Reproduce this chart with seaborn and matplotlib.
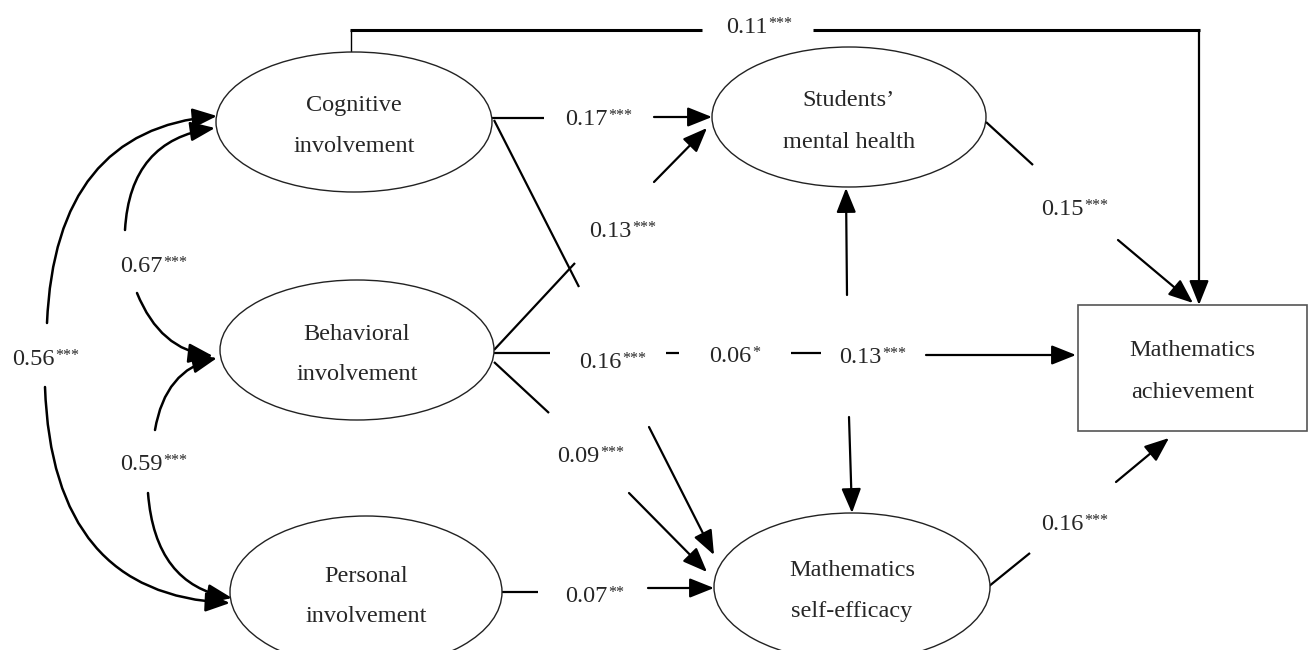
import matplotlib
matplotlib.use("Agg")
import matplotlib.pyplot as plt
import seaborn as sns
from matplotlib.patches import Ellipse, Rectangle, FancyArrowPatch
from matplotlib.path import Path

# --- data: constructs and path coefficients ---
latent_lines = [
    ["Cognitive", "involvement"],
    ["Behavioral", "involvement"],
    ["Personal", "involvement"],
    ["Students\u2019", "mental health"],
    ["Mathematics", "self-efficacy"],
]
observed_lines = ["Mathematics", "achievement"]

coef_values = ["0.11", "0.17", "0.13", "0.15", "0.67", "0.56", "0.59",
               "0.16", "0.06", "0.13", "0.09", "0.07", "0.16"]
coef_stars = ["***", "***", "***", "***", "***", "***", "***",
              "***", "*", "***", "***", "**", "***"]

# --- layout (pixel coordinates, y down) ---
ellipse_geom = [  # cx, cy, w, h
    (354, 122, 276, 140),
    (357, 350, 274, 140),
    (366, 592, 272, 152),
    (849, 117, 274, 140),
    (852, 587, 276, 148),
]
box_geom = (1078, 305, 229, 126)

# left x of number, baseline y
label_pos = [(726, 33), (565, 125), (589, 237), (1041, 215), (120, 272),
             (12, 365), (120, 470), (579, 368), (709, 362), (839, 363),
             (557, 462), (565, 602), (1041, 530)]

# plain line pieces: (x0, y0, x1, y1, lw)
segments = [
    (351, 52, 351, 30, 1.0),
    (350, 30, 702, 30, 2.2),
    (813, 30, 1200, 30, 2.2),
    (492, 118, 544, 118, 1.6),
    (494, 350, 575, 263, 1.6),
    (494, 120, 579, 287, 1.6),
    (494, 362, 549, 413, 1.6),
    (502, 592, 538, 592, 1.6),
    (494, 353, 550, 353, 1.6),
    (666, 353, 679, 353, 1.6),
    (791, 353, 821, 353, 1.6),
    (986, 122, 1033, 165, 1.6),
    (988, 587, 1030, 553, 1.6),
]

# straight arrows: start -> tip
arrows = [
    ((1199, 30), (1199, 305)),
    ((654, 117), (712, 117)),
    ((654, 182), (707, 128)),
    ((649, 427), (714, 555)),
    ((629, 493), (707, 572)),
    ((648, 588), (714, 588)),
    ((926, 355), (1076, 355)),
    ((847, 295), (846, 188)),
    ((849, 417), (852, 513)),
    ((1118, 240), (1193, 303)),
    ((1116, 482), (1169, 438)),
]

# curved covariance arrows: start, control, tip
curves = [
    ((47, 323), (55, 130), (217, 116)),
    ((45, 387), (52, 595), (230, 603)),
    ((125, 230), (130, 140), (215, 128)),
    ((137, 293), (160, 350), (213, 356)),
    ((155, 430), (165, 370), (217, 358)),
    ((148, 493), (155, 585), (232, 598)),
]

sns.set_theme(style="white")
plt.rcParams["font.family"] = ["Liberation Serif", "DejaVu Serif"]

fig = plt.figure(figsize=(13.08, 6.5), dpi=100)
ax = fig.add_axes([0, 0, 1, 1])
ax.set_xlim(0, 1308)
ax.set_ylim(650, 0)
ax.axis("off")

arrow_style = "-|>,head_length=1.5,head_width=0.6"


def draw_arrow(verts, codes, lw=1.6):
    patch = FancyArrowPatch(path=Path(verts, codes), arrowstyle=arrow_style,
                            mutation_scale=10, lw=lw, color="black", zorder=3)
    ax.add_patch(patch)


for x0, y0, x1, y1, lw in segments:
    ax.plot([x0, x1], [y0, y1], color="black", lw=lw, solid_capstyle="butt", zorder=2)

for p0, p1 in arrows:
    draw_arrow([p0, p1], [Path.MOVETO, Path.LINETO])

for p0, c, p1 in curves:
    draw_arrow([p0, c, p1], [Path.MOVETO, Path.CURVE3, Path.CURVE3], lw=1.8)

# nodes
for (cx, cy, w, h), lines in zip(ellipse_geom, latent_lines):
    ax.add_patch(Ellipse((cx, cy), w, h, fc="white", ec="#222222", lw=1.0, zorder=4))
    ax.text(cx, cy - 16, lines[0], ha="center", va="center", fontsize=17.5, zorder=5)
    ax.text(cx, cy + 25, lines[1], ha="center", va="center", fontsize=17.5, zorder=5)

bx, by, bw, bh = box_geom
ax.add_patch(Rectangle((bx, by), bw, bh, fc="white", ec="#555555", lw=1.2, zorder=4))
ax.text(bx + bw / 2, by + bh / 2 - 17, observed_lines[0], ha="center", va="center",
        fontsize=17.5, zorder=5)
ax.text(bx + bw / 2, by + bh / 2 + 24, observed_lines[1], ha="center", va="center",
        fontsize=17.5, zorder=5)

# coefficient labels with significance stars
for val, stars, (lx, ly) in zip(coef_values, coef_stars, label_pos):
    t = ax.text(lx, ly, val, ha="left", va="baseline", fontsize=17.5, zorder=6)
    ax.annotate(stars, xy=(1, 1), xycoords=t, xytext=(0.5, 1), textcoords="offset points",
                ha="left", va="top", fontsize=11.5, zorder=6)

fig.savefig("out.png", dpi=100, facecolor="white")
